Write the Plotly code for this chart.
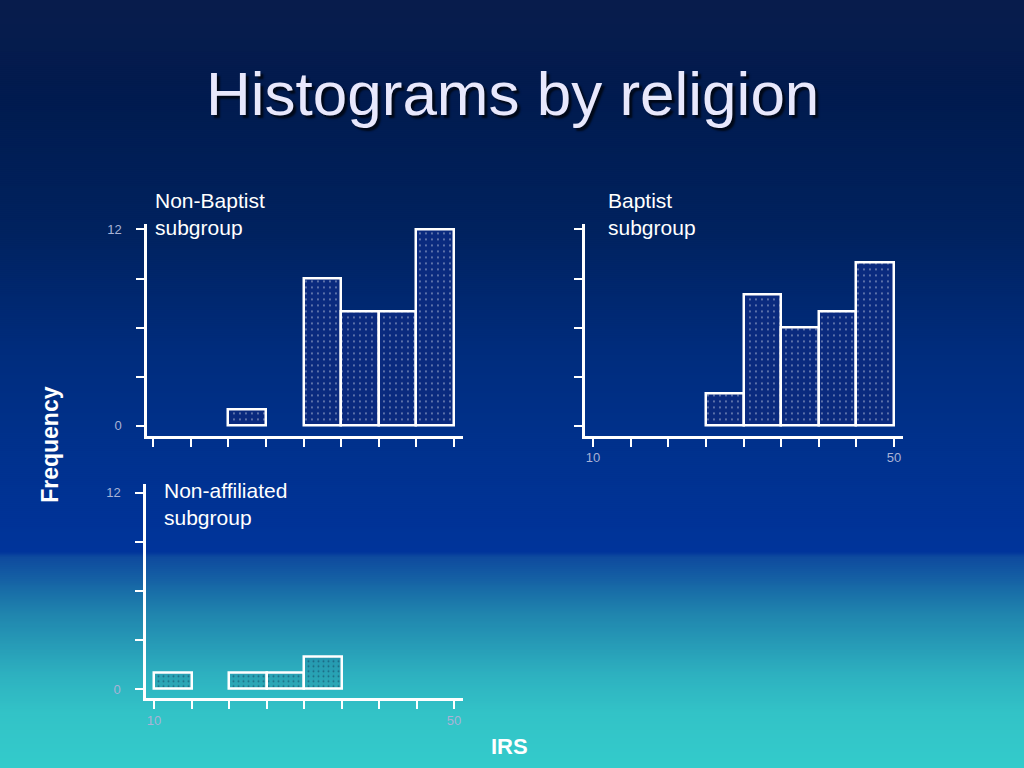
import plotly.graph_objects as go

# ---------------- data ----------------
bin_starts = [10, 15, 20, 25, 30, 35, 40, 45]
bin_width = 5
non_baptist = [0, 0, 1, 0, 9, 7, 7, 12]
baptist = [0, 0, 0, 2, 8, 6, 7, 10]
non_affiliated = [1, 0, 1, 1, 2, 0, 0, 0]
x_ticks = [10, 15, 20, 25, 30, 35, 40, 45, 50]
y_ticks = [0, 3, 6, 9, 12]
y_ticktext = ["0", "", "", "", "12"]
x_ticktext_blank = [""] * 9
x_ticktext_ends = ["10", "", "", "", "", "", "", "", "50"]

title_text = "Histograms by religion"
panel_labels = ["Non-Baptist<br>subgroup", "Baptist<br>subgroup", "Non-affiliated<br>subgroup"]

W, H = 1024, 768
FONT = "Liberation Sans, Arial, sans-serif"


def fx(p):
    return p / W


def fy(p):
    return 1 - p / H


def hexrgb(h):
    h = h.lstrip("#")
    return tuple(int(h[i:i + 2], 16) for i in (0, 2, 4))


# background gradient stops (pixel y, colour)
grad = [
    (0, "#081c4c"), (100, "#011b4f"), (230, "#01225f"), (345, "#002c7c"),
    (460, "#00328f"), (552, "#00349b"), (556, "#0e4a9e"), (614, "#2085ae"),
    (676, "#2eb2c0"), (714, "#33c3c7"), (768, "#33cbcb"),
]


def grad_color(y):
    for (y0, c0), (y1, c1) in zip(grad[:-1], grad[1:]):
        if y0 <= y <= y1:
            t = 0 if y1 == y0 else (y - y0) / (y1 - y0)
            a, b = hexrgb(c0), hexrgb(c1)
            return "rgb(%d,%d,%d)" % tuple(round(a[i] + (b[i] - a[i]) * t) for i in range(3))
    return grad[-1][1]


# overlapping strips (each reaches the bottom) so no seams show
shapes = []
step = 2
for y in range(0, H, step):
    shapes.append(dict(type="rect", xref="paper", yref="paper", x0=-0.01, x1=1.01,
                       y0=-0.01, y1=fy(y), fillcolor=grad_color(y + step / 2),
                       line=dict(width=0), layer="below"))

fig = go.Figure()

# panel geometry in pixels: (left, right, top, bottom, x10_px, x50_px, y0_px, y12_px)
panels = [
    (147, 463, 223, 435, 153.3, 454, 425, 228),
    (585, 903, 223, 435, 593, 894, 425, 228),
    (146, 463, 483, 698, 154, 454, 689, 492),
]
series = [non_baptist, baptist, non_affiliated]
xticktexts = [x_ticktext_blank, x_ticktext_ends, x_ticktext_ends]
bar_patterns = [
    dict(shape=".", fgcolor="rgba(255,255,255,0.9)", bgcolor="#0a2a7e", size=6, solidity=0.08),
    dict(shape=".", fgcolor="rgba(255,255,255,0.9)", bgcolor="#0a2a7e", size=6, solidity=0.08),
    dict(shape=".", fgcolor="#0c3050", bgcolor="rgba(0,40,80,0.10)", size=5, solidity=0.12),
]

for i, (geo, vals) in enumerate(zip(panels, series)):
    left, right, top, bottom, x10, x50, y0p, y12p = geo
    xs = (x50 - x10) / 40.0
    ys = (y0p - y12p) / 12.0
    xr = [10 - (x10 - left) / xs, 50 + (right - x50) / xs]
    yr = [-(bottom - y0p) / ys, 12 + (y12p - top) / ys]
    n = "" if i == 0 else str(i + 1)
    fig.add_trace(go.Bar(
        x=[s + bin_width / 2 for s in bin_starts],
        y=[v if v else None for v in vals],
        width=bin_width,
        marker=dict(color=bar_patterns[i]["bgcolor"], pattern=bar_patterns[i],
                    line=dict(color="white", width=2.5)),
        xaxis="x" + n, yaxis="y" + n, showlegend=False, hoverinfo="skip",
    ))
    axcommon = dict(showgrid=False, zeroline=False, showline=True, linecolor="white",
                    linewidth=2.5, ticks="outside", tickcolor="white", tickwidth=2,
                    ticklen=8, tickfont=dict(family=FONT, size=13, color="#a9b3d6"))
    fig.update_layout(**{
        "xaxis" + n: dict(domain=[fx(left), fx(right)], range=xr, anchor="y" + n,
                          tickvals=x_ticks, ticktext=xticktexts[i], fixedrange=True,
                          ticklabelstandoff=0, **axcommon),
        "yaxis" + n: dict(domain=[fy(bottom), fy(top)], range=yr, anchor="x" + n,
                          tickvals=y_ticks, ticktext=y_ticktext if i != 1 else [""] * 5,
                          ticklabelstandoff=12, fixedrange=True, **axcommon),
    })

annotations = [
    dict(text=title_text, x=0.5, y=fy(92), xref="paper", yref="paper", showarrow=False,
         xanchor="center", yanchor="middle",
         font=dict(family=FONT, size=62, color="#e8e8fc", shadow="3px 3px 2px rgba(0,0,0,0.7)")),
    dict(text="Frequency", x=fx(50), y=fy(444), xref="paper", yref="paper", showarrow=False,
         textangle=-90, xanchor="center", yanchor="middle",
         font=dict(family=FONT, size=23, color="white", weight="bold")),
    dict(text="IRS", x=fx(509), y=fy(746), xref="paper", yref="paper", showarrow=False,
         xanchor="center", yanchor="middle",
         font=dict(family=FONT, size=22, color="white", weight="bold")),
]
label_pos = [(153, 185), (606, 185), (162, 476)]
for txt, (lx, ly) in zip(panel_labels, label_pos):
    annotations.append(dict(text=txt, x=fx(lx), y=fy(ly), xref="paper", yref="paper",
                            showarrow=False, xanchor="left", yanchor="top", align="left",
                            font=dict(family=FONT, size=21, color="white")))

fig.update_layout(
    width=W, height=H, margin=dict(l=0, r=0, t=0, b=0),
    paper_bgcolor="#081c4c", plot_bgcolor="rgba(0,0,0,0)",
    shapes=shapes, annotations=annotations, bargap=0,
)

fig.write_html("out.html", config={"displayModeBar": False},
               post_script="document.body.style.margin='0';")
